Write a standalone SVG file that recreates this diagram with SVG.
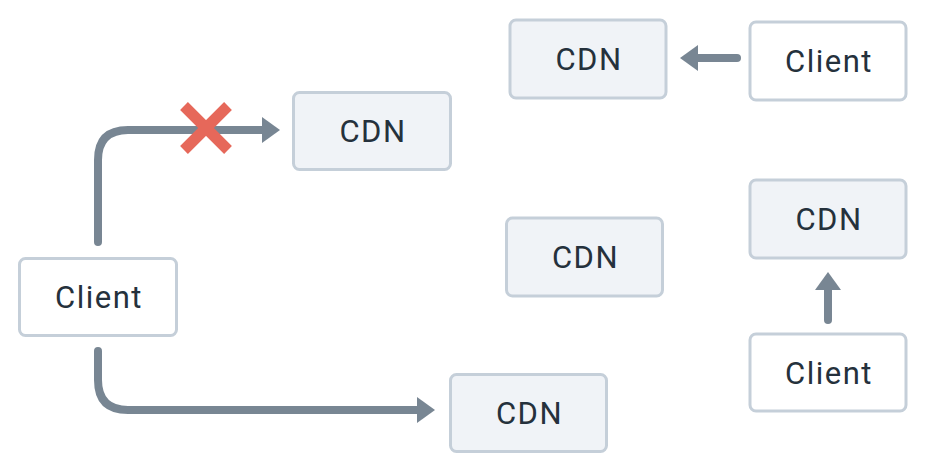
<svg xmlns="http://www.w3.org/2000/svg" width="926" height="472" viewBox="0 0 926 472">
<defs>
<style>
.box{stroke:#c5cfd9;stroke-width:3}
.cdn{fill:#f0f3f7}
.client{fill:#ffffff}
.lbl{font-family:Roboto,"Liberation Sans",sans-serif;font-size:31px;fill:#25313c;text-anchor:middle;letter-spacing:1.5px}
.conn{fill:none;stroke:#788693;stroke-width:8;stroke-linecap:round;stroke-linejoin:round}
.x{stroke:#e6685a;stroke-width:11}
</style>
<marker id="ah" markerUnits="userSpaceOnUse" viewBox="0 0 18 26" markerWidth="18" markerHeight="26" refX="2" refY="13" orient="auto">
<polygon points="0,0 18,13 0,26" fill="#788693"/>
</marker>
</defs>
<rect width="926" height="472" fill="#ffffff"/>
<g id="connectors">
<path class="conn" d="M98,242 V160 Q98,130 128,130 H264" marker-end="url(#ah)"/>
<path class="conn" d="M98,351 V380 Q98,410 128,410 H419" marker-end="url(#ah)"/>
<path class="conn" d="M737,58 H696" marker-end="url(#ah)"/>
<path class="conn" d="M828,320 V288" marker-end="url(#ah)"/>
<g id="blocked">
<line class="x" x1="184" y1="106" x2="228" y2="150"/>
<line class="x" x1="184" y1="150" x2="228" y2="106"/>
</g>
</g>
<g id="client-left"><rect class="box client" x="19.5" y="258.5" width="157" height="77" rx="6"/><text class="lbl" x="99" y="308">Client</text></g>
<g id="cdn-upper-left"><rect class="box cdn" x="293.5" y="92.5" width="157" height="77" rx="6"/><text class="lbl" x="373" y="142">CDN</text></g>
<g id="cdn-bottom"><rect class="box cdn" x="450.5" y="374.5" width="156" height="77" rx="6"/><text class="lbl" x="529.5" y="424">CDN</text></g>
<g id="cdn-center"><rect class="box cdn" x="506.5" y="218" width="156" height="78" rx="6"/><text class="lbl" x="585.5" y="268">CDN</text></g>
<g id="cdn-top"><rect class="box cdn" x="510" y="20" width="156" height="78" rx="6"/><text class="lbl" x="589" y="70">CDN</text></g>
<g id="client-top-right"><rect class="box client" x="750" y="22" width="156" height="78" rx="6"/><text class="lbl" x="829" y="72">Client</text></g>
<g id="cdn-right"><rect class="box cdn" x="750" y="180" width="156" height="78" rx="6"/><text class="lbl" x="829" y="230">CDN</text></g>
<g id="client-bottom-right"><rect class="box client" x="750" y="334" width="156" height="77" rx="6"/><text class="lbl" x="829" y="384">Client</text></g>
</svg>
